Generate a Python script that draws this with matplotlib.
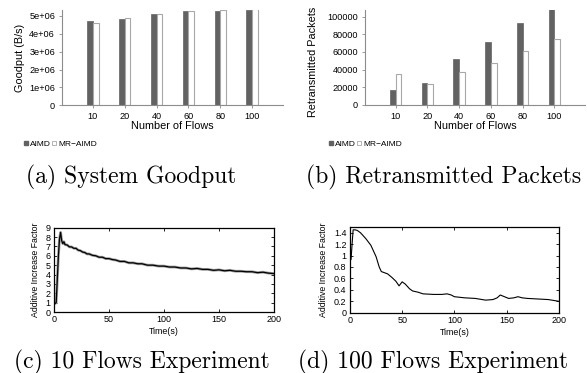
import matplotlib
matplotlib.use("Agg")
import matplotlib.pyplot as plt
from matplotlib.lines import Line2D
from matplotlib.ticker import FormatStrFormatter
import numpy as np

# ---------------- data ----------------
flows = ["10", "20", "40", "60", "80", "100"]
goodput_aimd = [4.70e6, 4.85e6, 5.10e6, 5.25e6, 5.30e6, 5.32e6]
goodput_mr = [4.60e6, 4.88e6, 5.10e6, 5.27e6, 5.33e6, 5.37e6]
retx_aimd = [17500, 25000, 51500, 71500, 93000, 109000]
retx_mr = [35000, 23500, 37500, 48000, 61500, 75000]

t10 = [0, 1, 2, 3, 4, 5, 6, 7, 8, 9, 10, 12, 14, 16, 18, 20, 22, 24, 26, 28,
       30, 32, 35, 38, 41, 44, 47, 50, 53, 56, 60, 64, 68, 72, 76, 80, 85, 90,
       95, 100, 105, 110, 115, 120, 125, 130, 135, 140, 145, 150, 155, 160,
       165, 170, 175, 180, 185, 190, 195, 200]
aif10 = [1.0, 0.9, 1.0, 3.5, 6.0, 7.8, 8.5, 7.6, 7.3, 7.5, 7.2, 7.15, 6.95,
         6.95, 6.8, 6.8, 6.6, 6.55, 6.4, 6.35, 6.2, 6.2, 6.05, 6.0, 5.85,
         5.85, 5.7, 5.7, 5.6, 5.55, 5.4, 5.4, 5.25, 5.25, 5.15, 5.15, 5.0,
         5.0, 4.9, 4.9, 4.8, 4.8, 4.7, 4.7, 4.6, 4.65, 4.55, 4.55, 4.45, 4.5,
         4.4, 4.45, 4.35, 4.35, 4.3, 4.3, 4.2, 4.25, 4.15, 4.1]

t100 = [0, 1, 2, 3, 5, 7, 10, 15, 20, 25, 28, 30, 33, 36, 40, 44, 47, 50, 53,
        57, 60, 65, 70, 80, 88, 93, 97, 100, 105, 110, 120, 130, 137, 141, 144,
        148, 152, 157, 161, 165, 170, 180, 190, 200]
aif100 = [1.0, 0.93, 1.2, 1.45, 1.45, 1.44, 1.4, 1.3, 1.18, 0.98, 0.8, 0.72,
          0.70, 0.68, 0.62, 0.55, 0.47, 0.54, 0.50, 0.42, 0.38, 0.36, 0.33,
          0.32, 0.32, 0.33, 0.31, 0.28, 0.27, 0.26, 0.25, 0.22, 0.23, 0.26,
          0.31, 0.28, 0.25, 0.26, 0.28, 0.26, 0.25, 0.24, 0.23, 0.20]

# ---------------- style ----------------
SANS = "Liberation Sans"
plt.rcParams["font.family"] = SANS
DARK = "#626262"
EDGE = "#a8a8a8"
AX = "#8c8c8c"

fig = plt.figure(figsize=(5.87, 3.73), dpi=100)
W, H = 587.0, 373.0


def box(l, r, top, bottom):
    return [l / W, 1 - bottom / H, (r - l) / W, (bottom - top) / H]


def bar_panel(rect, a_vals, m_vals, ylabel, yticks, yticklabels, ylim):
    ax = fig.add_axes(rect)
    x = np.arange(len(flows))
    w = 0.18
    ax.bar(x - w / 2, a_vals, w, color=DARK, edgecolor=DARK, linewidth=0.5)
    ax.bar(x + w / 2, m_vals, w, color="white", edgecolor=EDGE, linewidth=0.8)
    ax.set_xlim(-0.97, 5.97)
    ax.set_ylim(*ylim)
    ax.set_xticks(x)
    ax.set_xticklabels(flows)
    ax.set_yticks(yticks)
    ax.set_yticklabels(yticklabels)
    for s in ("top", "right"):
        ax.spines[s].set_visible(False)
    for s in ("left", "bottom"):
        ax.spines[s].set_color(AX)
        ax.spines[s].set_linewidth(0.8)
    ax.tick_params(axis="both", labelsize=6.6, length=2.5, width=0.6,
                   color=AX, pad=2.5)
    ax.set_xlabel("Number of Flows", fontsize=7.8, labelpad=0)
    ax.set_ylabel(ylabel, fontsize=7.8, labelpad=3)
    return ax


ax_a = bar_panel(box(62, 283, 10, 105.3), goodput_aimd, goodput_mr,
                 "Goodput (B/s)",
                 [0, 1e6, 2e6, 3e6, 4e6, 5e6],
                 ["0", "1e+06", "2e+06", "3e+06", "4e+06", "5e+06"],
                 (0, 5.33e6))
ax_b = bar_panel(box(365, 585, 10, 105), retx_aimd, retx_mr,
                 "Retransmitted Packets",
                 [0, 20000, 40000, 60000, 80000, 100000],
                 ["0", "20000", "40000", "60000", "80000", "100000"],
                 (0, 107500))
ax_b.yaxis.set_label_coords(-0.215, 0.45)

# legends
for lx in (24, 329):
    handles = [Line2D([], [], ls="none", marker="s", markersize=2.6,
                      markerfacecolor=DARK, markeredgecolor=DARK),
               Line2D([], [], ls="none", marker="s", markersize=2.6,
                      markerfacecolor="white", markeredgecolor=EDGE,
                      markeredgewidth=0.6)]
    fig.legend(handles, ["AIMD", "MR\u2212AIMD"], loc="center left",
               bbox_to_anchor=(lx / W, 1 - 144.5 / H), ncol=2,
               frameon=False, fontsize=6.0, handlelength=0.5,
               handletextpad=0.25, columnspacing=0.1, borderpad=0,
               borderaxespad=0)


def line_panel(rect, t, v, ylim, yticks, halo):
    ax = fig.add_axes(rect)
    if halo:
        ax.plot(t, v, color="#a0a0a0", linewidth=2.0, solid_joinstyle="round")
        ax.plot(t, v, color="black", linewidth=0.9)
    else:
        ax.plot(t, v, color="black", linewidth=0.8)
    ax.set_xlim(0, 200)
    ax.set_ylim(*ylim)
    ax.set_xticks([0, 50, 100, 150, 200])
    ax.set_yticks(yticks)
    ax.yaxis.set_major_formatter(FormatStrFormatter("%g"))
    for s in ax.spines.values():
        s.set_linewidth(0.9)
        s.set_color("black")
    ax.tick_params(direction="in", top=True, right=True, length=2.5,
                   width=0.6, labelsize=6.5, pad=2.5)
    ax.set_xlabel("Time(s)", fontsize=6.4, labelpad=2)
    ax.set_ylabel("Additive Increase Factor", fontsize=6.3, labelpad=4)
    return ax


ax_c = line_panel(box(54, 274, 227.7, 312), t10, aif10, (0, 9), range(10),
                  True)
ax_d = line_panel(box(350, 558.7, 227, 312.7), t100, aif100, (0, 1.5),
                  [0, 0.2, 0.4, 0.6, 0.8, 1.0, 1.2, 1.4], False)

# captions
cap = dict(family="cmr10", fontsize=17, ha="center", va="center")
fig.text(131 / W, 1 - 177 / H, "(a) System Goodput", **cap)
fig.text(444 / W, 1 - 177 / H, "(b) Retransmitted Packets", **cap)
fig.text(142 / W, 1 - 362 / H, "(c) 10 Flows Experiment", **cap)
fig.text(433 / W, 1 - 362 / H, "(d) 100 Flows Experiment", **cap)

fig.savefig("out.png", dpi=100)
